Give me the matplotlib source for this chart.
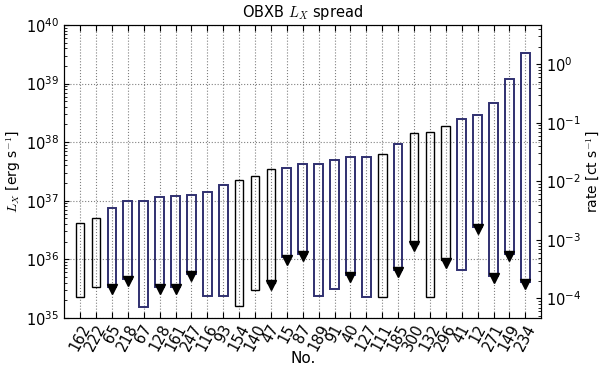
import numpy as np
import matplotlib
matplotlib.use("Agg")
import matplotlib.pyplot as plt

plt.rcParams['mathtext.fontset'] = 'cm'

ids = ['162', '222', '65', '218', '67', '128', '161', '247', '116', '93', '154', '140', '47', '15',
       '87', '189', '91', '40', '127', '111', '185', '300', '132', '296', '41', '12', '271', '149', '234']
# log10 Lx range per source
log_hi = [36.62, 36.70, 36.87, 37.00, 37.00, 37.06, 37.08, 37.10, 37.14, 37.27, 37.36, 37.42, 37.54, 37.56,
          37.62, 37.63, 37.70, 37.74, 37.75, 37.80, 37.96, 38.15, 38.18, 38.28, 38.40, 38.46, 38.67, 39.08, 39.52]
log_lo = [35.35, 35.52, 35.52, 35.67, 35.19, 35.53, 35.53, 35.75, 35.38, 35.38, 35.20, 35.47, 35.60, 36.03,
          36.09, 35.38, 35.49, 35.73, 35.36, 35.35, 35.82, 36.26, 35.36, 35.98, 35.82, 36.55, 35.72, 36.09, 35.62]
# lower end is only an upper limit
limit = [0, 0, 1, 1, 0, 1, 1, 1, 0, 0, 0, 0, 1, 1,
         1, 0, 0, 1, 0, 0, 1, 1, 0, 1, 0, 1, 1, 1, 1]
navy = [0, 0, 1, 1, 1, 1, 1, 1, 1, 1, 0, 0, 0, 1,
        1, 1, 1, 1, 1, 0, 1, 0, 0, 0, 1, 1, 1, 1, 1]

x = np.arange(len(ids))
hi = 10 ** np.array(log_hi)
lo = 10 ** np.array(log_lo)

fig = plt.figure(figsize=(6.0, 3.67), dpi=100)
ax = fig.add_axes([0.107, 0.134, 0.795, 0.798])

cols = ['#303070' if n else 'black' for n in navy]
lws = [1.4 if n else 1.0 for n in navy]
ax.bar(x, hi - lo, bottom=lo, width=0.55, color='none', edgecolor=cols, linewidth=lws, zorder=3)
lim = np.array(limit) == 1
ax.plot(x[lim], lo[lim] * 0.92, 'v', color='black', markersize=6.5, zorder=4)

ax.set_yscale('log')
ax.set_ylim(1e35, 1e40)
ax.set_xlim(-1, len(ids))
ax.set_xticks(x)
ax.set_xticklabels(ids, rotation=62, fontsize=10.5)
ax.tick_params(axis='x', direction='in', top=True, length=4, pad=3)
ax.tick_params(axis='y', which='both', direction='in', labelsize=10.5)
ax.grid(True, linestyle=':', color='#808080', linewidth=0.8)
ax.set_ylabel(r'$L_X$ [erg s$^{-1}$]', fontsize=10, labelpad=2)
ax.set_xlabel('No.', fontsize=11)
ax.xaxis.set_label_coords(0.5, -0.112)
ax.set_title(r'OBXB $L_X$ spread', fontsize=10.5)

ax2 = ax.twinx()
ax2.set_yscale('log')
ax2.set_ylim(10 ** -4.33, 10 ** 0.67)
ax2.tick_params(axis='y', which='both', direction='in', labelsize=10.5)
ax2.set_ylabel(r'rate [ct s$^{-1}$]', fontsize=10, labelpad=2)

fig.savefig('out.png', dpi=100, facecolor='white')
